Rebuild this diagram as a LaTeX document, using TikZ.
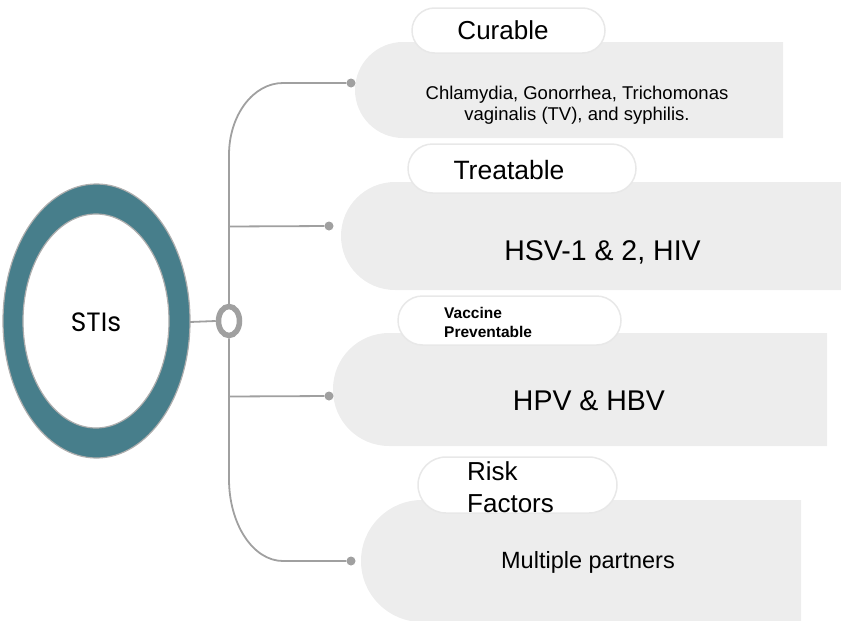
\documentclass[tikz,border=0pt]{standalone}
\usepackage{fontspec}
\setmainfont{Liberation Sans}
\newfontfamily\hubfont{Poppins}
\usetikzlibrary{shapes.geometric,shapes.misc}

\definecolor{ringteal}{HTML}{477E8B}
\definecolor{linegray}{HTML}{A0A0A0}
\definecolor{boxgray}{HTML}{EDEDED}
\definecolor{pillgray}{HTML}{E8E8E8}

\tikzset{
  spine/.style={draw=linegray, line width=1.8pt},
  dotnode/.style={circle, fill=linegray, inner sep=0pt, minimum size=9pt},
  card/.style={fill=boxgray},
  pill/.style={rounded rectangle, draw=pillgray, line width=1.5pt, fill=white, inner sep=0pt},
  head/.style={font=\fontsize{26}{31}\selectfont},
  big/.style={font=\fontsize{28.5}{34}\selectfont},
}

\begin{document}
\begin{tikzpicture}[x=1pt, y=-1pt]
\useasboundingbox (0,0) rectangle (841,621);
\clip (0,0) rectangle (841,621);

% central ring
\fill[ringteal, even odd rule]
  (96.5,321) ellipse [x radius=93.5, y radius=137]
  (96,321) ellipse [x radius=73, y radius=107];
\draw[linegray!85, line width=1.2pt] (96.5,321) ellipse [x radius=93.5, y radius=137];
\draw[linegray!85, line width=1.2pt] (96,321) ellipse [x radius=73, y radius=107];
\node[font=\hubfont\fontsize{26.5}{31}\selectfont, anchor=base] (sti) at (96,331.5) {STIs};
\coordinate (hubR) at (190,322);

% grey cards, rounded on the left
\fill[card] (783,42) [rounded corners=48pt] -- (355,42) -- (355,138) [sharp corners] -- (783,138) -- cycle;
\fill[card] (841,182) [rounded corners=54pt] -- (341,182) -- (341,290) [sharp corners] -- (841,290) -- cycle;
\fill[card] (827,333) [rounded corners=56pt] -- (333,333) -- (333,446) [sharp corners] -- (827,446) -- cycle;
\fill[card] (801,500) [rounded corners=61pt] -- (361,500) -- (361,622) [sharp corners] -- (801,622) -- cycle;

% title pills
\node[pill, minimum width=193pt, minimum height=45pt] (p1) at (508.5,30.5) {};
\node[pill, minimum width=228pt, minimum height=49pt] (p2) at (522,168.5) {};
\node[pill, minimum width=223pt, minimum height=49pt] (p3) at (509.5,320.5) {};
\node[pill, minimum width=199pt, minimum height=56pt] (p4) at (517.5,485) {};

% junction knot and spine
\node[ellipse, draw=linegray, line width=5.5pt, minimum width=21pt, minimum height=29pt, inner sep=0pt] (knot) at (229,321) {};
\draw[spine] (hubR) -- (knot.west);

\node[dotnode] (d1) at (351,83) {};
\node[dotnode] (d2) at (329,226) {};
\node[dotnode] (d3) at (329,396) {};
\node[dotnode] (d4) at (351,561) {};

\coordinate (s2) at (229,226.5);
\coordinate (s3) at (229,396.5);

\draw[spine] (knot.north) -- (229,155) .. controls (229,115.2) and (253.2,83) .. (283,83) -- (d1);
\draw[spine] (knot.south) -- (229,479) .. controls (229,524.3) and (253.2,561) .. (283,561) -- (d4);
\draw[spine] (s2) -- (d2);
\draw[spine] (s3) -- (d3);

% titles
\node[head, anchor=base] (t1) at (503,39) {Curable};
\node[head, font=\fontsize{26.5}{31}\selectfont, anchor=base] (t2) at (509,179) {Treatable};
\node[font=\bfseries\fontsize{15.5}{19}\selectfont, align=left, anchor=north west, inner sep=0pt] (t3) at (444,307) {Vaccine\\Preventable};
\node[head, font=\fontsize{26}{32}\selectfont, align=left, anchor=north west, inner sep=0pt] (t4) at (467,461) {Risk\\Factors};

% contents
\node[font=\fontsize{18.5}{20.5}\selectfont, align=center] (c1) at (577,105) {Chlamydia, Gonorrhea, Trichomonas\\vaginalis (TV), and syphilis.};
\node[big, anchor=base] (c2) at (602.5,260.5) {HSV-1 \& 2, HIV};
\node[big, anchor=base] (c3) at (589,410) {HPV \& HBV};
\node[font=\fontsize{23.5}{28}\selectfont, anchor=base] (c4) at (588,568) {Multiple partners};
\end{tikzpicture}
\end{document}
